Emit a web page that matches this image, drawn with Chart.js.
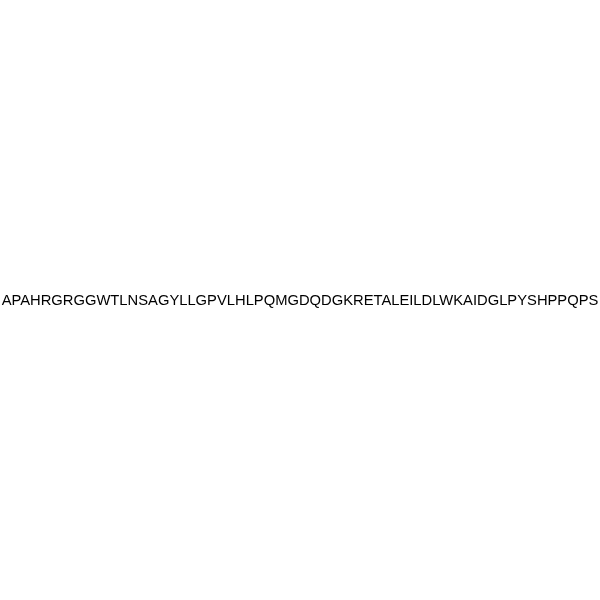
<!DOCTYPE html>
<html>
<head>
<meta charset="utf-8">
<script src="https://cdn.jsdelivr.net/npm/chart.js@4"></script>
<style>
  html, body { margin: 0; padding: 0; background: #ffffff; }
  #wrap { width: 600px; height: 600px; }
</style>
</head>
<body>
<div id="wrap"><canvas id="c" width="600" height="600"></canvas></div>
<script>
const labels = ["APAHRGRGGWTLNSAGYLLGPVLHLPQMGDQDGKRETALEILDLWKAIDGLPYSHPPQPS"];
const xValues = [0];
const yValues = [0];

const textPlugin = {
  id: 'pointText',
  afterDatasetsDraw(chart) {
    const ctx = chart.ctx;
    const xs = chart.scales.x, ys = chart.scales.y;
    ctx.save();
    ctx.font = '14.75px "Liberation Sans", Arial, sans-serif';
    ctx.fillStyle = '#000000';
    ctx.textAlign = 'center';
    ctx.textBaseline = 'alphabetic';
    labels.forEach((t, i) => {
      ctx.fillText(t, xs.getPixelForValue(xValues[i]), ys.getPixelForValue(yValues[i]) + 5);
    });
    ctx.restore();
  }
};

new Chart(document.getElementById('c'), {
  type: 'scatter',
  data: {
    labels: labels,
    datasets: [{
      data: xValues.map((x, i) => ({ x: x, y: yValues[i] })),
      pointRadius: 0,
      pointHoverRadius: 0
    }]
  },
  options: {
    responsive: false,
    animation: false,
    events: [],
    layout: { padding: 0 },
    plugins: { legend: { display: false }, tooltip: { enabled: false }, title: { display: false } },
    scales: {
      x: { display: false, min: -1, max: 1 },
      y: { display: false, min: -1, max: 1 }
    }
  },
  plugins: [textPlugin]
});
</script>
</body>
</html>
